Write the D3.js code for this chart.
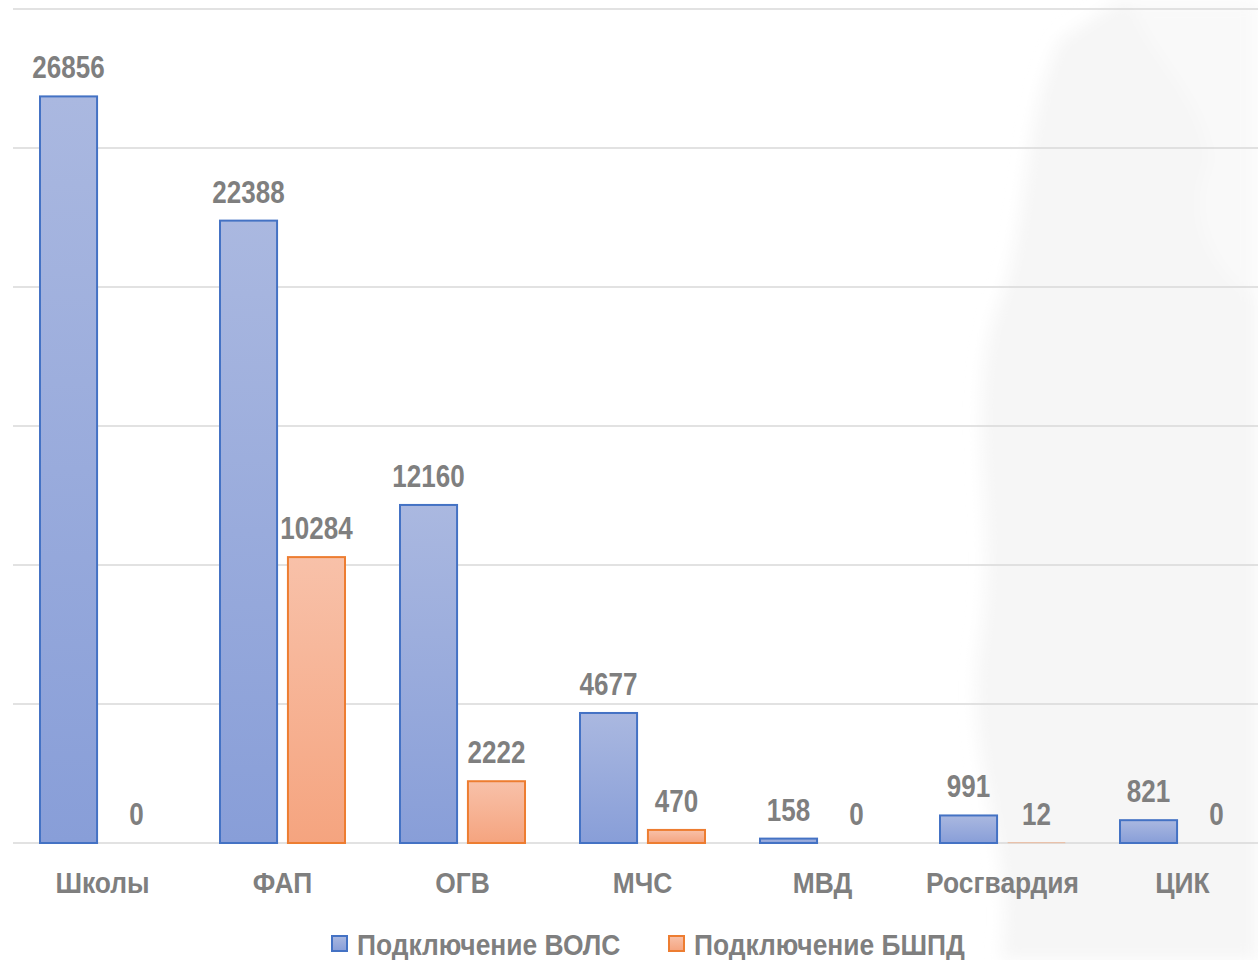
<!DOCTYPE html>
<html>
<head>
<meta charset="utf-8">
<script src="https://cdn.jsdelivr.net/npm/d3@7"></script>
<style>
  body { margin: 0; background: #fff; }
  text { font-family: "Liberation Sans Narrow", "Arial Narrow", "Liberation Sans", sans-serif; font-weight: bold; fill: #7f7f7f; }
</style>
</head>
<body>
<div id="chart"></div>
<script>
var categories = ["Школы", "ФАП", "ОГВ", "МЧС", "МВД", "Росгвардия", "ЦИК"];
var seriesNames = ["Подключение ВОЛС", "Подключение БШПД"];
var volsValues = [26856, 22388, 12160, 4677, 158, 991, 821];
var bshpdValues = [0, 10284, 2222, 470, 0, 12, 0];
var yTicks = [0, 5000, 10000, 15000, 20000, 25000, 30000];

var width = 1258, height = 960;

var svg = d3.select("#chart")
    .append("svg")
    .attr("width", width)
    .attr("height", height);

var defs = svg.append("defs");

// bar gradients, lighter at the top
var gradBlue = defs.append("linearGradient")
    .attr("id", "grad-blue")
    .attr("x1", 0).attr("y1", 0).attr("x2", 0).attr("y2", 1);
gradBlue.append("stop").attr("offset", "0%").attr("stop-color", "#aab8e0");
gradBlue.append("stop").attr("offset", "100%").attr("stop-color", "#889ed8");

var gradOrange = defs.append("linearGradient")
    .attr("id", "grad-orange")
    .attr("x1", 0).attr("y1", 0).attr("x2", 0).attr("y2", 1);
gradOrange.append("stop").attr("offset", "0%").attr("stop-color", "#f8c1a9");
gradOrange.append("stop").attr("offset", "100%").attr("stop-color", "#f5a47f");

defs.append("filter")
    .attr("id", "soft")
    .append("feGaussianBlur")
    .attr("stdDeviation", 8);

// faint watermark on the right side
var mark = svg.append("g")
    .attr("filter", "url(#soft)")
    .attr("fill", "#f6f6f6");
mark.append("path")
    .attr("d", "M1000,960 C1020,860 960,760 980,640 C1000,520 960,400 1000,300 C1030,220 1020,120 1060,40 L1120,0 L1258,0 L1258,960 Z");
mark.append("path")
    .attr("fill", "#f9f9f9")
    .attr("d", "M1130,0 C1150,60 1200,90 1210,160 C1180,220 1220,280 1258,300 L1258,0 Z");

var colors = ["url(#grad-blue)", "url(#grad-orange)"];
var strokes = ["#4472c4", "#ed7d31"];

var x0 = d3.scaleBand()
    .domain(categories)
    .range([12.5, 1272.5])
    .paddingInner(0)
    .paddingOuter(0);

var x1 = d3.scaleBand()
    .domain(seriesNames)
    .range([27.5, x0.bandwidth() - 27.5])
    .paddingInner(0.16);

var y = d3.scaleLinear()
    .domain([0, 30000])
    .range([843, 9]);

// the narrow font is missing, so squeeze the regular one
function squeeze(x, yy, k) {
    return "translate(" + x + "," + yy + ") scale(" + k + ",1)";
}

// gridlines
svg.append("g")
    .selectAll("line")
    .data(yTicks)
    .enter().append("line")
    .attr("x1", 13)
    .attr("x2", width)
    .attr("y1", function(d) { return y(d); })
    .attr("y2", function(d) { return y(d); })
    .attr("stroke", "#d9d9d9")
    .attr("stroke-width", 1.5);

var rows = categories.map(function(c, i) {
    return [
        { cat: c, s: 0, value: volsValues[i] },
        { cat: c, s: 1, value: bshpdValues[i] }
    ];
});

var groups = svg.append("g")
    .selectAll(".group")
    .data(rows)
    .enter().append("g")
    .attr("class", "group")
    .attr("transform", function(d, i) { return "translate(" + x0(categories[i]) + ",0)"; });

groups.selectAll("rect")
    .data(function(d) { return d.filter(function(b) { return b.value > 0; }); })
    .enter().append("rect")
    .attr("x", function(d) { return x1(seriesNames[d.s]); })
    .attr("y", function(d) { return y(d.value); })
    .attr("width", x1.bandwidth())
    .attr("height", function(d) { return y(0) - y(d.value); })
    .attr("fill", function(d) { return colors[d.s]; })
    .attr("stroke", function(d) { return strokes[d.s]; })
    .attr("stroke-width", function(d) { return (y(0) - y(d.value)) < 2 ? 0.5 : 2; })
    .attr("stroke-opacity", function(d) { return (y(0) - y(d.value)) < 2 ? 0.3 : 1; });

groups.selectAll(".val")
    .data(function(d) { return d; })
    .enter().append("text")
    .attr("class", "val")
    .attr("transform", function(d) {
        return squeeze(x1(seriesNames[d.s]) + x1.bandwidth() / 2, y(d.value) - 18, 0.84);
    })
    .attr("text-anchor", "middle")
    .style("font-size", "31px")
    .text(function(d) { return d.value; });

// category labels
svg.append("g")
    .selectAll("text")
    .data(categories)
    .enter().append("text")
    .attr("transform", function(d) { return squeeze(x0(d) + x0.bandwidth() / 2, 893, 0.88); })
    .attr("text-anchor", "middle")
    .style("font-size", "30px")
    .text(function(d) { return d; });

// legend
var legendX = [332, 669];
var legend = svg.append("g")
    .selectAll("g")
    .data(seriesNames)
    .enter().append("g")
    .attr("transform", function(d, i) { return "translate(" + legendX[i] + ",0)"; });

legend.append("rect")
    .attr("x", 0)
    .attr("y", 936)
    .attr("width", 15)
    .attr("height", 15)
    .attr("fill", function(d, i) { return colors[i]; })
    .attr("stroke", function(d, i) { return strokes[i]; })
    .attr("stroke-width", 2);

legend.append("text")
    .attr("transform", squeeze(25, 955, 0.88))
    .style("font-size", "30px")
    .text(function(d) { return d; });
</script>
</body>
</html>
